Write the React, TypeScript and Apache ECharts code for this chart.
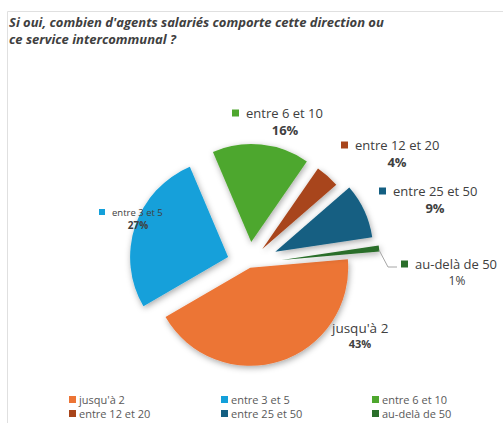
import React, { useEffect, useRef } from "react";
import * as echarts from "echarts";

const categories = ["jusqu'à 2", "entre 3 et 5", "entre 6 et 10", "entre 12 et 20", "entre 25 et 50", "au-delà de 50"];
const percentages = [43, 27, 16, 4, 9, 1];
const colors = ["#EC7435", "#13A0DA", "#4EA72E", "#A8441A", "#145F82", "#2A6E2A"];
// explosion of each slice (px)
const explode = [4, 22, 22, 20, 29, 33];
// label layout: [name-line left x, name-line y, percent centre x, percent y]
const labelPos = [
  [332, 328, 360, 343],
  [99, 212, 138, 225],
  [232, 113, 285, 130],
  [341, 145, 397, 162],
  [379, 191, 435, 208],
  [401, 264, 457, 280],
];
// label fonts: [name size, percent size, percent bold, show key]
const labelFont: [number, number, boolean, boolean][] = [
  [13.5, 11, true, false],
  [9.5, 10, true, true],
  [13, 13, true, true],
  [13, 13, true, true],
  [13, 13, true, true],
  [13, 12, false, true],
];
const legendPos = [
  [64, 389],
  [216, 389],
  [367, 389],
  [64, 403],
  [216, 403],
  [367, 403],
];
const titleLines = ["Si oui, combien d'agents salariés comporte cette direction ou", "ce service intercommunal ?"];

export default function App() {
  const ref = useRef<HTMLDivElement>(null);
  useEffect(() => {
    if (!ref.current) return;
    const chart = echarts.init(ref.current, null, { renderer: "svg" });
    const font = "Open Sans";
    const textColor = "#404040";

    const series = categories.map((_, s) => ({
      type: "pie",
      name: "s" + s,
      center: [249, 264],
      radius: 98,
      startAngle: 5,
      clockwise: true,
      selectedMode: "multiple",
      selectedOffset: explode[s],
      silent: true,
      z: 2,
      emphasis: { disabled: true },
      select: { itemStyle: { borderWidth: 0 } },
      label: { show: false },
      labelLine: { show: false },
      data: categories.map((name, i) => ({
        name,
        value: percentages[i],
        selected: i === s,
        itemStyle:
          i === s
            ? {
                color: colors[i],
                shadowBlur: 6,
                shadowColor: "rgba(0,0,0,0.35)",
                shadowOffsetX: 1,
                shadowOffsetY: 2,
              }
            : { color: "rgba(0,0,0,0)" },
      })),
    }));

    const graphics: any[] = [
      {
        type: "rect",
        z: 0,
        shape: { x: 7.5, y: 11.5, width: 600, height: 600 },
        style: { fill: "none", stroke: "#e0e0e0", lineWidth: 1 },
        silent: true,
      },
    ];
    categories.forEach((name, i) => {
      const [lx, ly, px, py] = labelPos[i];
      const [ns, ps, bold, key] = labelFont[i];
      const keySize = ns < 11 ? 6 : 7;
      graphics.push({
        type: "text",
        silent: true,
        z: 100,
        style: {
          x: lx,
          y: ly,
          text: key ? `{sq|}{n|${name}}` : `{n|${name}}`,
          align: "left",
          verticalAlign: "middle",
          rich: {
            sq: { width: keySize, height: keySize, backgroundColor: colors[i] },
            n: { fontSize: ns, fontFamily: font, fill: textColor, color: textColor, padding: key ? [0, 0, 0, 7] : 0 },
          },
        },
      });
      graphics.push({
        type: "text",
        silent: true,
        z: 100,
        style: {
          x: px,
          y: py,
          text: `${percentages[i]}%`,
          align: "center",
          verticalAlign: "middle",
          fontSize: ps,
          fontFamily: font,
          fontWeight: bold ? "bold" : "normal",
          fill: textColor,
        },
      });
    });
    graphics.push({
      type: "polyline",
      silent: true,
      z: 100,
      shape: { points: [[379, 250], [388, 267], [397, 267]] },
      style: { stroke: "#a6a6a6", lineWidth: 1, fill: "none" },
    });

    const legends = categories.map((name, i) => ({
      data: [{ name, itemStyle: { color: colors[i] } }],
      left: legendPos[i][0],
      top: legendPos[i][1],
      itemWidth: 7,
      itemHeight: 7,
      icon: "rect",
      itemGap: 4,
      textStyle: { fontSize: 11, color: "#595959", fontFamily: font, padding: [0, 0, 0, -2] },
      selectedMode: false,
    }));

    const titleStyle = {
      fontSize: 13,
      lineHeight: 17,
      fontWeight: "bold",
      fontStyle: "italic",
      color: "#404040",
      fontFamily: font,
    };

    chart.setOption({
      animation: false,
      title: [
        { text: titleLines[0], left: 9, top: 13, padding: 0, textStyle: titleStyle },
        { text: titleLines[1], left: 9, top: 30, padding: 0, textStyle: titleStyle },
      ],
      graphic: graphics,
      legend: legends,
      series,
    });
    return () => chart.dispose();
  }, []);
  return <div ref={ref} style={{ position: "fixed", left: 0, top: 0, width: 503, height: 423, background: "#fff" }} />;
}
